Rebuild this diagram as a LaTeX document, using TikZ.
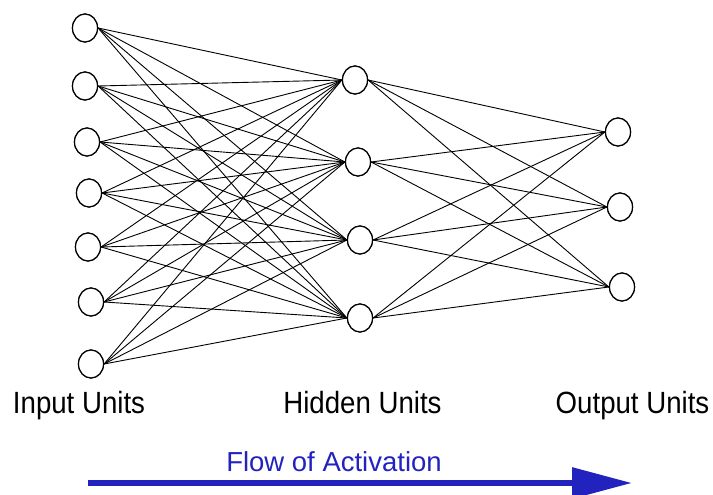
\documentclass[tikz,border=0pt]{standalone}
\usepackage{fontspec}
\setmainfont{Liberation Sans}
\usetikzlibrary{shapes.geometric,arrows.meta}
\definecolor{flowblue}{RGB}{34,34,190}
\begin{document}
\begin{tikzpicture}[x=1pt,y=-1pt,
  unit/.style={ellipse,draw=black,line width=1.2pt,fill=white,minimum width=25pt,minimum height=28pt,inner sep=0pt},
  conn/.style={black,line width=0.9pt},
  lbl/.style={anchor=base,inner sep=0pt,font=\fontsize{30.7}{36}\selectfont},
  flowlbl/.style={anchor=base,inner sep=0pt,text=flowblue,font=\fontsize{27.5}{32}\selectfont}]
\useasboundingbox (0,0) rectangle (713,495);
% input units
\node[unit] (i1) at (85,28) {};
\node[unit] (i2) at (85,86) {};
\node[unit] (i3) at (87,142) {};
\node[unit] (i4) at (89,193) {};
\node[unit] (i5) at (88,247) {};
\node[unit] (i6) at (91,302) {};
\node[unit] (i7) at (91,364) {};
% hidden units
\node[unit] (h1) at (355,80) {};
\node[unit] (h2) at (358,162) {};
\node[unit] (h3) at (360,240) {};
\node[unit] (h4) at (360,318) {};
% output units
\node[unit] (o1) at (618,132) {};
\node[unit] (o2) at (620,207) {};
\node[unit] (o3) at (622,287) {};
% connections
\begin{scope}[on background layer/.try]
\foreach \i in {1,...,7}{
  \foreach \h in {1,...,4}{
    \draw[conn] (i\i.east) -- (h\h.west);
  }
}
\foreach \h in {1,...,4}{
  \foreach \o in {1,...,3}{
    \draw[conn] (h\h.east) -- (o\o.west);
  }
}
\end{scope}
% redraw nodes on top
\foreach \n in {i1,i2,i3,i4,i5,i6,i7,h1,h2,h3,h4,o1,o2,o3}{
  \draw[line width=1.2pt,fill=white] (\n.center) ellipse (12.5pt and 14pt);
}
% labels
\node[lbl] (linput) at (79,413) {\scalebox{0.9}[1]{Input Units}};
\node[lbl] (lhidden) at (362.5,413) {\scalebox{0.9}[1]{Hidden Units}};
\node[lbl] (loutput) at (632.5,413) {\scalebox{0.9}[1]{Output Units}};
% flow of activation
\node[flowlbl] (lflow) at (334,471) {Flow of Activation};
\coordinate (fstart) at (88,483);
\coordinate (fend) at (632,483);
\draw[flowblue,line width=6pt,-{Triangle[length=60pt,width=30pt]}] (fstart) -- (fend);
\end{tikzpicture}
\end{document}
